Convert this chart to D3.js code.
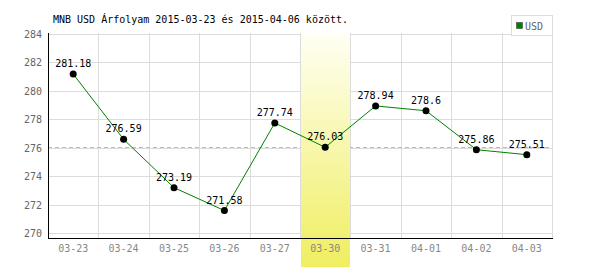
<!DOCTYPE html>
<html lang="hu">
<head>
<meta charset="UTF-8">
<title>MNB USD árfolyam</title>
<style>
    body { margin: 0; background: #fff; }
    svg text { font-family: "DejaVu Sans Mono", monospace; font-size: 10px; }
    .grid line { stroke: #dcdcdc; stroke-width: 1px; shape-rendering: crispEdges; }
</style>
</head>
<body>
<div id="chart"></div>
<script src="https://d3js.org/d3.v7.min.js"></script>
<script>
    // data
    const dates = ["03-23", "03-24", "03-25", "03-26", "03-27", "03-30", "03-31", "04-01", "04-02", "04-03"];
    const usd = [281.18, 276.59, 273.19, 271.58, 277.74, 276.03, 278.94, 278.6, 275.86, 275.51];
    const yTicks = [270, 272, 274, 276, 278, 280, 282, 284];
    const highlight = "03-30";
    const refValue = 276.03;

    const width = 600, height = 270;
    const plotLeft = 48, plotRight = 552, plotTop = 34, plotBottom = 238;

    const svg = d3.select("#chart").append("svg")
        .attr("width", width)
        .attr("height", height);

    const x = d3.scaleBand().domain(dates).range([plotLeft, plotRight]).padding(0);
    const y = d3.scaleLinear().domain([270, 284]).range([233, plotTop]);

    // highlight band gradient
    const defs = svg.append("defs");
    const grad = defs.append("linearGradient")
        .attr("id", "hl").attr("x1", 0).attr("y1", 0).attr("x2", 0).attr("y2", 1);
    grad.append("stop").attr("offset", "0%").attr("stop-color", "#fffff4");
    grad.append("stop").attr("offset", "100%").attr("stop-color", "#f0ee60");

    // horizontal grid
    svg.append("g").attr("class", "grid")
        .selectAll("line").data(yTicks).enter().append("line")
        .attr("x1", plotLeft).attr("x2", plotRight)
        .attr("y1", d => Math.round(y(d)) + 0.5).attr("y2", d => Math.round(y(d)) + 0.5);

    // vertical grid
    svg.append("g").attr("class", "grid")
        .selectAll("line").data(dates.slice(1).concat(["end"])).enter().append("line")
        .attr("x1", d => d === "end" ? plotRight : Math.round(x(d)) + 0.5)
        .attr("x2", d => d === "end" ? plotRight : Math.round(x(d)) + 0.5)
        .attr("y1", plotTop - 1).attr("y2", plotBottom);

    // reference dashed line
    svg.append("line")
        .attr("x1", plotLeft).attr("x2", plotRight)
        .attr("y1", Math.round(y(refValue)) + 0.5).attr("y2", Math.round(y(refValue)) + 0.5)
        .attr("stroke", "#a8c8a8").attr("stroke-dasharray", "4,3");

    // highlighted day
    svg.append("rect")
        .attr("x", Math.round(x(highlight)) + 1)
        .attr("y", plotTop - 1)
        .attr("width", Math.round(x.bandwidth()) - 1)
        .attr("height", 267 - plotTop + 1)
        .attr("fill", "url(#hl)");

    // axes
    svg.append("line")
        .attr("x1", plotLeft + 0.5).attr("x2", plotLeft + 0.5).attr("y1", plotTop - 1).attr("y2", plotBottom)
        .attr("stroke", "#000");
    svg.append("line")
        .attr("x1", plotLeft).attr("x2", plotRight + 1).attr("y1", plotBottom + 0.5).attr("y2", plotBottom + 0.5)
        .attr("stroke", "#000");

    svg.append("g").selectAll("text").data(yTicks).enter().append("text")
        .attr("x", plotLeft - 6)
        .attr("y", d => y(d) + 4)
        .attr("text-anchor", "end")
        .attr("fill", "#666")
        .text(d => d);

    svg.append("g").selectAll("text").data(dates).enter().append("text")
        .attr("x", d => x(d) + x.bandwidth() / 2)
        .attr("y", 252)
        .attr("text-anchor", "middle")
        .attr("fill", "#888")
        .text(d => d);

    // series
    const line = d3.line()
        .x((d, i) => x(dates[i]) + x.bandwidth() / 2)
        .y(d => y(d));

    svg.append("path")
        .datum(usd)
        .attr("d", line)
        .attr("fill", "none")
        .attr("stroke", "#008000")
        .attr("stroke-width", 1);

    svg.append("g").selectAll("circle").data(usd).enter().append("circle")
        .attr("cx", (d, i) => x(dates[i]) + x.bandwidth() / 2)
        .attr("cy", d => y(d))
        .attr("r", 3.5)
        .attr("fill", "#000");

    svg.append("g").selectAll("text").data(usd).enter().append("text")
        .attr("x", (d, i) => x(dates[i]) + x.bandwidth() / 2)
        .attr("y", d => y(d) - 7)
        .attr("text-anchor", "middle")
        .attr("fill", "#000")
        .text(d => d);

    // title
    svg.append("text")
        .attr("x", 53)
        .attr("y", 23)
        .attr("fill", "#000")
        .text("MNB USD Árfolyam 2015-03-23 és 2015-04-06 között.");

    // legend
    const legend = svg.append("g");
    legend.append("rect")
        .attr("x", 511.5).attr("y", 15.5).attr("width", 41).attr("height", 20)
        .attr("fill", "#fff").attr("stroke", "#ddd");
    legend.append("rect")
        .attr("x", 516.5).attr("y", 22.5).attr("width", 6).attr("height", 6)
        .attr("fill", "#008000").attr("stroke", "#333").attr("stroke-width", 0.5);
    legend.append("text")
        .attr("x", 525).attr("y", 30)
        .attr("fill", "#666")
        .text("USD");
</script>
</body>
</html>
